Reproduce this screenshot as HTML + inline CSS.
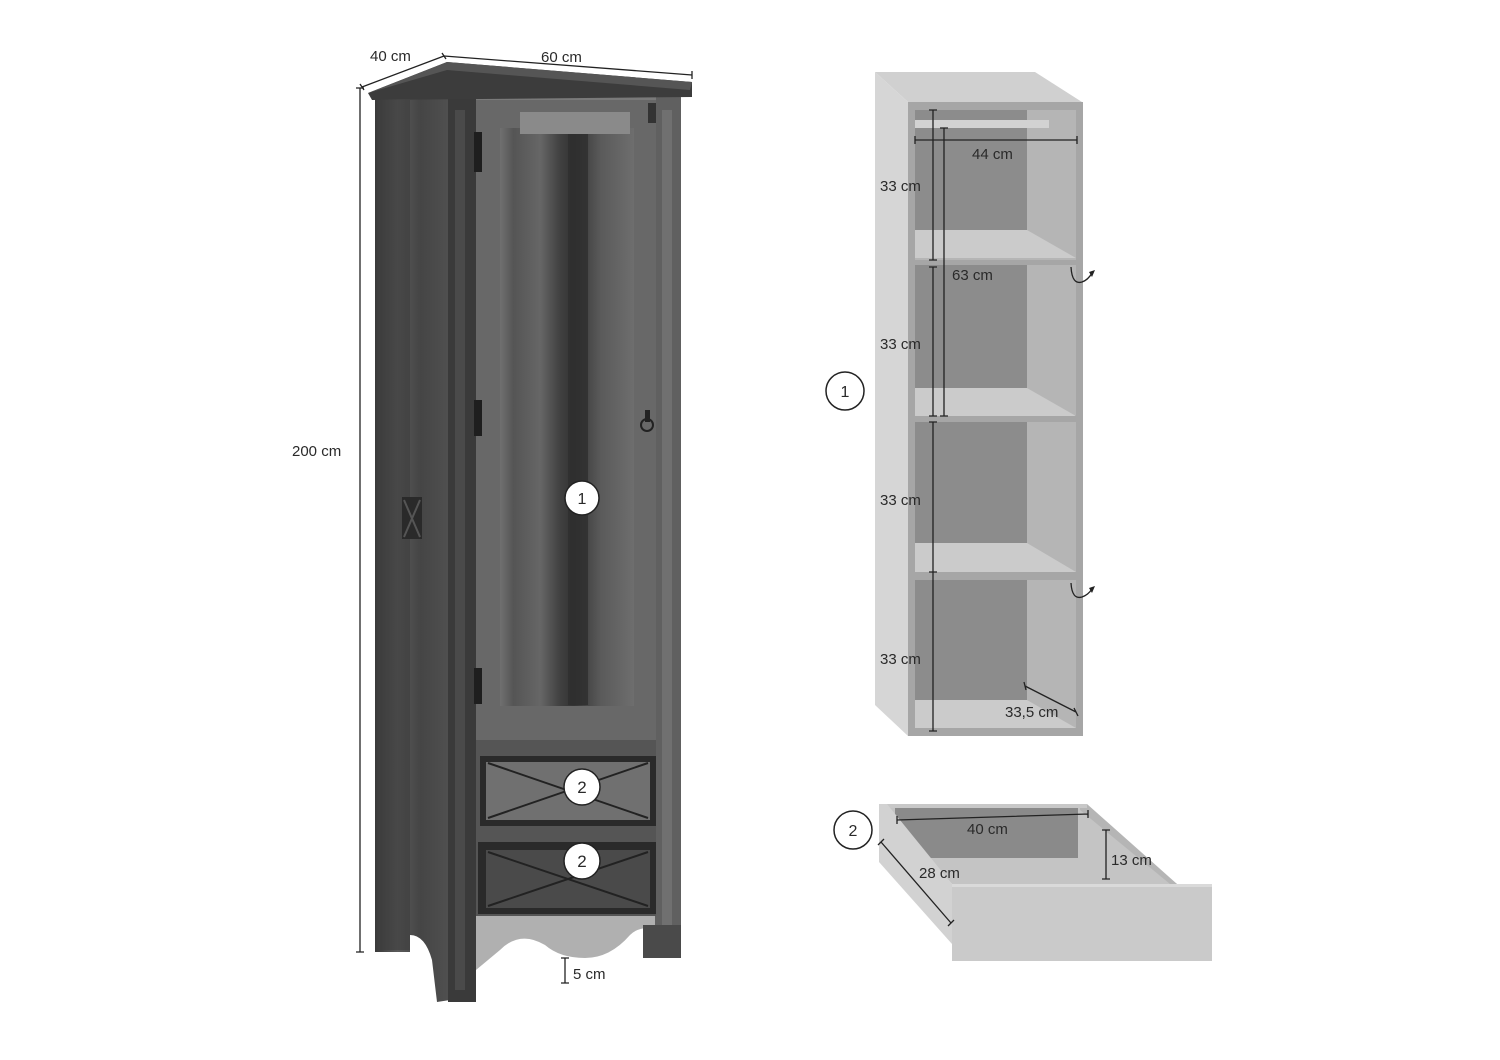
<!DOCTYPE html>
<html><head><meta charset="utf-8"><style>
html,body{margin:0;padding:0;background:#fff;}
svg{display:block;}
text{font-family:"Liberation Sans",sans-serif;fill:#2a2a2a;}
</style></head><body>
<svg width="1500" height="1060" viewBox="0 0 1500 1060" xmlns="http://www.w3.org/2000/svg">
<defs>
<linearGradient id="wood1" x1="0" x2="1" y1="0" y2="0">
<stop offset="0" stop-color="#3a3a3a"/><stop offset="0.3" stop-color="#5a5a5a"/><stop offset="0.6" stop-color="#454545"/><stop offset="1" stop-color="#505050"/></linearGradient>
<linearGradient id="door" x1="0" x2="1" y1="0" y2="0">
<stop offset="0" stop-color="#707070"/><stop offset="0.1" stop-color="#555"/><stop offset="0.3" stop-color="#666"/><stop offset="0.45" stop-color="#404040"/><stop offset="0.55" stop-color="#333"/><stop offset="0.75" stop-color="#5a5a5a"/><stop offset="1" stop-color="#6e6e6e"/></linearGradient>
</defs>

<!-- left side panel -->
<path d="M375 98 L450 96 L450 1000 L437 1002 L432 960 Q425 935 410 935 L410 952 L375 952 Z" fill="url(#wood1)"/>
<rect x="380" y="100" width="30" height="850" fill="#3c3c3c" opacity="0.6"/>
<!-- front posts -->
<rect x="448" y="96" width="28" height="906" fill="#3a3a3a"/>
<rect x="455" y="110" width="10" height="880" fill="#555" opacity="0.6"/>
<rect x="655" y="96" width="26" height="862" fill="#606060"/>
<rect x="662" y="110" width="10" height="840" fill="#707070"/>
<rect x="476" y="96" width="180" height="40" fill="#7a7a7a"/>
<!-- door -->
<rect x="476" y="100" width="180" height="640" fill="#686868"/>
<rect x="500" y="128" width="134" height="578" fill="url(#door)"/>
<rect x="568" y="130" width="20" height="575" fill="#2e2e2e" opacity="0.8"/>
<rect x="520" y="112" width="110" height="22" fill="#8a8a8a"/>
<rect x="474" y="132" width="8" height="40" fill="#1e1e1e"/>
<rect x="474" y="400" width="8" height="36" fill="#1e1e1e"/>
<rect x="474" y="668" width="8" height="36" fill="#1e1e1e"/>
<circle cx="647" cy="425" r="6" fill="none" stroke="#222" stroke-width="2"/>
<rect x="645" y="410" width="5" height="12" fill="#222"/>
<rect x="648" y="103" width="8" height="20" fill="#333"/>
<rect x="402" y="497" width="20" height="42" fill="#2a2a2a"/>
<path d="M404 500 L420 537 M420 500 L404 537" stroke="#555" stroke-width="2"/>
<!-- top cap -->
<path d="M368 93 L447 62 L692 82 L692 97 L372 100 Z" fill="#3c3c3c"/>
<path d="M368 93 L447 62 L692 82 L690 90 L447 70 Z" fill="#555"/>
<!-- drawers -->
<rect x="476" y="740" width="180" height="176" fill="#555"/>
<rect x="480" y="756" width="176" height="70" fill="#2a2a2a"/>
<rect x="486" y="762" width="164" height="58" fill="#707070"/>
<path d="M488 763 L648 818 M648 763 L488 818" stroke="#222" stroke-width="2"/>
<rect x="478" y="842" width="178" height="72" fill="#2a2a2a"/>
<rect x="486" y="850" width="164" height="58" fill="#4a4a4a"/>
<path d="M488 852 L648 906 M648 852 L488 906" stroke="#222" stroke-width="2"/>
<!-- apron -->
<path d="M476 916 L655 916 L655 930 Q640 925 630 935 Q610 958 585 958 Q560 958 545 945 Q520 930 500 950 Q488 960 476 970 Z" fill="#b0b0b0"/>
<rect x="643" y="925" width="38" height="33" fill="#4a4a4a"/>

<circle cx="582" cy="498" r="17" fill="#fff" stroke="#222" stroke-width="1.5"/>
<text x="582" y="504" font-size="16" text-anchor="middle">1</text>
<circle cx="582" cy="787" r="18" fill="#fff" stroke="#222" stroke-width="1.5"/>
<text x="582" y="793" font-size="17" text-anchor="middle">2</text>
<circle cx="582" cy="861" r="18" fill="#fff" stroke="#222" stroke-width="1.5"/>
<text x="582" y="867" font-size="17" text-anchor="middle">2</text>

<g stroke="#222" stroke-width="1.3" fill="none">
<path d="M362 87 L444 56 M360 84 L364 90 M442 53 L446 59"/>
<path d="M444 56 L692 75 M692 71 L692 79"/>
<path d="M360 88 L360 952 M356 88 L364 88 M356 952 L364 952"/>
<path d="M565 958 L565 983 M561 958 L569 958 M561 983 L569 983"/>
</g>
<text x="370" y="61" font-size="15">40 cm</text>
<text x="541" y="62" font-size="15">60 cm</text>
<text x="292" y="456" font-size="15">200 cm</text>
<text x="573" y="979" font-size="15">5 cm</text>

<!-- Shelf diagram -->
<path d="M875 72 L1035 72 L1082 102 L908 102 Z" fill="#d0d0d0"/>
<path d="M875 72 L908 102 L908 736 L875 705 Z" fill="#d6d6d6"/>
<rect x="908" y="102" width="175" height="634" fill="#a6a6a6"/>
<rect x="915" y="110" width="161" height="150" fill="#b5b5b5"/>
<rect x="915" y="110" width="112" height="120" fill="#8c8c8c"/>
<rect x="915" y="120" width="134" height="8" fill="#d2d2d2"/>
<path d="M915 230 L1027 230 L1076 258 L915 258 Z" fill="#cbcbcb"/>
<rect x="915" y="265" width="161" height="150" fill="#b5b5b5"/>
<rect x="915" y="265" width="112" height="123" fill="#8c8c8c"/>
<path d="M915 388 L1027 388 L1076 416 L915 416 Z" fill="#cbcbcb"/>
<rect x="915" y="422" width="161" height="150" fill="#b5b5b5"/>
<rect x="915" y="422" width="112" height="121" fill="#8c8c8c"/>
<path d="M915 543 L1027 543 L1076 572 L915 572 Z" fill="#cbcbcb"/>
<rect x="915" y="580" width="161" height="148" fill="#b5b5b5"/>
<rect x="915" y="580" width="112" height="120" fill="#8c8c8c"/>
<path d="M915 700 L1027 700 L1076 728 L915 728 Z" fill="#cbcbcb"/>
<g stroke="#222" stroke-width="1.3" fill="none">
<path d="M933 110 L933 260 M929 110 L937 110 M929 260 L937 260"/>
<path d="M933 267 L933 416 M929 267 L937 267 M929 416 L937 416"/>
<path d="M933 422 L933 572 M929 422 L937 422"/>
<path d="M933 572 L933 731 M929 572 L937 572 M929 731 L937 731"/>
<path d="M944 128 L944 416 M940 128 L948 128 M940 416 L948 416"/>
<path d="M915 140 L1077 140 M915 136 L915 144 M1077 136 L1077 144"/>
<path d="M1025 686 L1076 712 M1024 682 L1026 690 M1074 708 L1078 716"/>
<path d="M1071 267 Q1072 285 1082 282 Q1088 280 1092 273"/>
<path d="M1071 583 Q1072 600 1082 597 Q1088 595 1092 589"/>
</g>
<path d="M1089 272 L1095 270 L1092 277 Z" fill="#222"/>
<path d="M1089 588 L1095 586 L1092 593 Z" fill="#222"/>
<text x="972" y="159" font-size="15">44 cm</text>
<text x="880" y="191" font-size="15">33 cm</text>
<text x="952" y="280" font-size="15">63 cm</text>
<text x="880" y="349" font-size="15">33 cm</text>
<text x="880" y="505" font-size="15">33 cm</text>
<text x="880" y="664" font-size="15">33 cm</text>
<text x="1005" y="717" font-size="15">33,5 cm</text>
<circle cx="845" cy="391" r="19" fill="#fff" stroke="#222" stroke-width="1.5"/>
<text x="845" y="397" font-size="16" text-anchor="middle">1</text>

<!-- Drawer diagram -->
<path d="M886 808 L1080 808 L1177 884 L952 884 Z" fill="#c4c4c4"/>
<rect x="895" y="808" width="183" height="50" fill="#8a8a8a"/>
<path d="M1080 804 L1087 804 L1177 884 L1170 884 L1080 810 Z" fill="#b5b5b5"/>
<path d="M879 804 L1087 804 L1087 808 L879 808 Z" fill="#c8c8c8"/>
<path d="M879 804 L887 804 L952 884 L952 944 L879 862 Z" fill="#d2d2d2"/>
<rect x="952" y="884" width="260" height="77" fill="#cacaca"/>
<rect x="952" y="884" width="260" height="3" fill="#dadada"/>
<g stroke="#222" stroke-width="1.3" fill="none">
<path d="M897 820 L1088 814 M897 816 L897 824 M1088 810 L1088 818"/>
<path d="M1106 830 L1106 879 M1102 830 L1110 830 M1102 879 L1110 879"/>
<path d="M881 842 L951 923 M878 845 L884 839 M948 926 L954 920"/>
</g>
<text x="967" y="834" font-size="15">40 cm</text>
<text x="1111" y="865" font-size="15">13 cm</text>
<text x="919" y="878" font-size="15">28 cm</text>
<circle cx="853" cy="830" r="19" fill="#fff" stroke="#222" stroke-width="1.5"/>
<text x="853" y="836" font-size="16" text-anchor="middle">2</text>
</svg>
</body></html>
